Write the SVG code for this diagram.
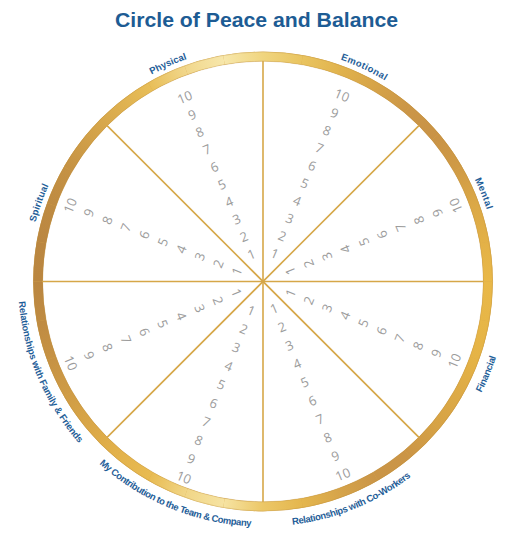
<svg xmlns="http://www.w3.org/2000/svg" width="526" height="545" viewBox="0 0 526 545">
<style>
.num{font-family:"Open Sans","Noto Sans",sans-serif;font-size:13px;fill:#9c9c9c;text-anchor:middle;dominant-baseline:central}
.lbl{font-family:"Liberation Sans",Arial,sans-serif;font-weight:bold;font-size:9.5px;fill:#1f5e98}
.spoke{stroke:#d6a748;stroke-width:1.6;fill:none}
.seg{fill:none;stroke-width:9.5}
</style>
<defs>
<path id="pPhys" d="M44.19,195.75 A235,235 0 0 1 348.75,62.69"/>
<path id="pEmo" d="M183.78,60.25 A235,235 0 0 1 484.25,202.28"/>
<path id="pMent" d="M355.94,65.68 A235,235 0 0 1 478.82,374.44"/>
<path id="pSpir" d="M51.08,383.04 A235,235 0 0 1 161.46,69.58"/>
<path id="pFin" d="M356.76,507.86 A245,245 0 0 0 489.36,187.74"/>
<path id="pCow" d="M167.28,507.02 A245,245 0 0 0 488.52,377.22"/>
<path id="pTeam" d="M36.82,375.65 A245,245 0 0 0 357.15,507.68"/>
<path id="pFam" d="M35.84,189.72 A245,245 0 0 0 171.22,508.66"/>
<linearGradient id="g0" gradientUnits="userSpaceOnUse" x1="488" y1="281.5" x2="484.58" y2="320.57"><stop offset="0" stop-color="#e9b848"/><stop offset="1" stop-color="#e7b647"/></linearGradient>
<linearGradient id="g1" gradientUnits="userSpaceOnUse" x1="484.58" y1="320.57" x2="474.43" y2="358.46"><stop offset="0" stop-color="#e7b647"/><stop offset="1" stop-color="#e5b346"/></linearGradient>
<linearGradient id="g2" gradientUnits="userSpaceOnUse" x1="474.43" y1="358.46" x2="457.86" y2="394"><stop offset="0" stop-color="#e5b346"/><stop offset="1" stop-color="#ddaa46"/></linearGradient>
<linearGradient id="g3" gradientUnits="userSpaceOnUse" x1="457.86" y1="394" x2="435.36" y2="426.13"><stop offset="0" stop-color="#ddaa46"/><stop offset="1" stop-color="#d6a245"/></linearGradient>
<linearGradient id="g4" gradientUnits="userSpaceOnUse" x1="435.36" y1="426.13" x2="407.63" y2="453.86"><stop offset="0" stop-color="#d6a245"/><stop offset="1" stop-color="#cb9546"/></linearGradient>
<linearGradient id="g5" gradientUnits="userSpaceOnUse" x1="407.63" y1="453.86" x2="375.5" y2="476.36"><stop offset="0" stop-color="#cb9546"/><stop offset="1" stop-color="#ca9547"/></linearGradient>
<linearGradient id="g6" gradientUnits="userSpaceOnUse" x1="375.5" y1="476.36" x2="339.96" y2="492.93"><stop offset="0" stop-color="#ca9547"/><stop offset="1" stop-color="#d6a44a"/></linearGradient>
<linearGradient id="g7" gradientUnits="userSpaceOnUse" x1="339.96" y1="492.93" x2="302.07" y2="503.08"><stop offset="0" stop-color="#d6a44a"/><stop offset="1" stop-color="#e4b64e"/></linearGradient>
<linearGradient id="g8" gradientUnits="userSpaceOnUse" x1="302.07" y1="503.08" x2="263" y2="506.5"><stop offset="0" stop-color="#e4b64e"/><stop offset="1" stop-color="#ecc767"/></linearGradient>
<linearGradient id="g9" gradientUnits="userSpaceOnUse" x1="263" y1="506.5" x2="223.93" y2="503.08"><stop offset="0" stop-color="#ecc767"/><stop offset="1" stop-color="#f6e3a2"/></linearGradient>
<linearGradient id="g10" gradientUnits="userSpaceOnUse" x1="223.93" y1="503.08" x2="186.04" y2="492.93"><stop offset="0" stop-color="#f6e3a2"/><stop offset="1" stop-color="#f1d687"/></linearGradient>
<linearGradient id="g11" gradientUnits="userSpaceOnUse" x1="186.04" y1="492.93" x2="150.5" y2="476.36"><stop offset="0" stop-color="#f1d687"/><stop offset="1" stop-color="#e8bb52"/></linearGradient>
<linearGradient id="g12" gradientUnits="userSpaceOnUse" x1="150.5" y1="476.36" x2="118.37" y2="453.86"><stop offset="0" stop-color="#e8bb52"/><stop offset="1" stop-color="#e3b24b"/></linearGradient>
<linearGradient id="g13" gradientUnits="userSpaceOnUse" x1="118.37" y1="453.86" x2="90.64" y2="426.13"><stop offset="0" stop-color="#e3b24b"/><stop offset="1" stop-color="#daa747"/></linearGradient>
<linearGradient id="g14" gradientUnits="userSpaceOnUse" x1="90.64" y1="426.13" x2="68.14" y2="394"><stop offset="0" stop-color="#daa747"/><stop offset="1" stop-color="#cf9c46"/></linearGradient>
<linearGradient id="g15" gradientUnits="userSpaceOnUse" x1="68.14" y1="394" x2="51.57" y2="358.46"><stop offset="0" stop-color="#cf9c46"/><stop offset="1" stop-color="#c69244"/></linearGradient>
<linearGradient id="g16" gradientUnits="userSpaceOnUse" x1="51.57" y1="358.46" x2="41.42" y2="320.57"><stop offset="0" stop-color="#c69244"/><stop offset="1" stop-color="#bf8b42"/></linearGradient>
<linearGradient id="g17" gradientUnits="userSpaceOnUse" x1="41.42" y1="320.57" x2="38" y2="281.5"><stop offset="0" stop-color="#bf8b42"/><stop offset="1" stop-color="#ba8640"/></linearGradient>
<linearGradient id="g18" gradientUnits="userSpaceOnUse" x1="38" y1="281.5" x2="41.42" y2="242.43"><stop offset="0" stop-color="#ba8640"/><stop offset="1" stop-color="#bb8741"/></linearGradient>
<linearGradient id="g19" gradientUnits="userSpaceOnUse" x1="41.42" y1="242.43" x2="51.57" y2="204.54"><stop offset="0" stop-color="#bb8741"/><stop offset="1" stop-color="#be8b42"/></linearGradient>
<linearGradient id="g20" gradientUnits="userSpaceOnUse" x1="51.57" y1="204.54" x2="68.14" y2="169"><stop offset="0" stop-color="#be8b42"/><stop offset="1" stop-color="#c59244"/></linearGradient>
<linearGradient id="g21" gradientUnits="userSpaceOnUse" x1="68.14" y1="169" x2="90.64" y2="136.87"><stop offset="0" stop-color="#c59244"/><stop offset="1" stop-color="#d2a149"/></linearGradient>
<linearGradient id="g22" gradientUnits="userSpaceOnUse" x1="90.64" y1="136.87" x2="118.37" y2="109.14"><stop offset="0" stop-color="#d2a149"/><stop offset="1" stop-color="#ddaf4f"/></linearGradient>
<linearGradient id="g23" gradientUnits="userSpaceOnUse" x1="118.37" y1="109.14" x2="150.5" y2="86.64"><stop offset="0" stop-color="#ddaf4f"/><stop offset="1" stop-color="#e8be58"/></linearGradient>
<linearGradient id="g24" gradientUnits="userSpaceOnUse" x1="150.5" y1="86.64" x2="186.04" y2="70.07"><stop offset="0" stop-color="#e8be58"/><stop offset="1" stop-color="#f1d78c"/></linearGradient>
<linearGradient id="g25" gradientUnits="userSpaceOnUse" x1="186.04" y1="70.07" x2="223.93" y2="59.92"><stop offset="0" stop-color="#f1d78c"/><stop offset="1" stop-color="#f7e7ab"/></linearGradient>
<linearGradient id="g26" gradientUnits="userSpaceOnUse" x1="223.93" y1="59.92" x2="263" y2="56.5"><stop offset="0" stop-color="#f7e7ab"/><stop offset="1" stop-color="#f0d57f"/></linearGradient>
<linearGradient id="g27" gradientUnits="userSpaceOnUse" x1="263" y1="56.5" x2="302.07" y2="59.92"><stop offset="0" stop-color="#f0d57f"/><stop offset="1" stop-color="#e9c460"/></linearGradient>
<linearGradient id="g28" gradientUnits="userSpaceOnUse" x1="302.07" y1="59.92" x2="339.96" y2="70.07"><stop offset="0" stop-color="#e9c460"/><stop offset="1" stop-color="#e1b34d"/></linearGradient>
<linearGradient id="g29" gradientUnits="userSpaceOnUse" x1="339.96" y1="70.07" x2="375.5" y2="86.64"><stop offset="0" stop-color="#e1b34d"/><stop offset="1" stop-color="#d6a348"/></linearGradient>
<linearGradient id="g30" gradientUnits="userSpaceOnUse" x1="375.5" y1="86.64" x2="407.63" y2="109.14"><stop offset="0" stop-color="#d6a348"/><stop offset="1" stop-color="#cb9647"/></linearGradient>
<linearGradient id="g31" gradientUnits="userSpaceOnUse" x1="407.63" y1="109.14" x2="435.36" y2="136.87"><stop offset="0" stop-color="#cb9647"/><stop offset="1" stop-color="#c99346"/></linearGradient>
<linearGradient id="g32" gradientUnits="userSpaceOnUse" x1="435.36" y1="136.87" x2="457.86" y2="169"><stop offset="0" stop-color="#c99346"/><stop offset="1" stop-color="#d09b45"/></linearGradient>
<linearGradient id="g33" gradientUnits="userSpaceOnUse" x1="457.86" y1="169" x2="474.43" y2="204.54"><stop offset="0" stop-color="#d09b45"/><stop offset="1" stop-color="#dba846"/></linearGradient>
<linearGradient id="g34" gradientUnits="userSpaceOnUse" x1="474.43" y1="204.54" x2="484.58" y2="242.43"><stop offset="0" stop-color="#dba846"/><stop offset="1" stop-color="#e3b147"/></linearGradient>
<linearGradient id="g35" gradientUnits="userSpaceOnUse" x1="484.58" y1="242.43" x2="488" y2="281.5"><stop offset="0" stop-color="#e3b147"/><stop offset="1" stop-color="#e9b848"/></linearGradient>
</defs>
<rect width="526" height="545" fill="#ffffff"/>
<text x="115" y="26.7" font-family="Liberation Sans, Arial, sans-serif" font-weight="bold" font-size="20.5" fill="#1d5c94" textLength="283" lengthAdjust="spacingAndGlyphs">Circle of Peace and Balance</text>

<g id="ring">
<circle cx="263" cy="281.5" r="225" fill="none" stroke="#d8a849" stroke-width="9.5"/>
<path class="seg" stroke="url(#g0)" d="M488,281.5 A225,225 0 0 1 484.58,320.57"/>
<path class="seg" stroke="url(#g1)" d="M484.58,320.57 A225,225 0 0 1 474.43,358.46"/>
<path class="seg" stroke="url(#g2)" d="M474.43,358.46 A225,225 0 0 1 457.86,394"/>
<path class="seg" stroke="url(#g3)" d="M457.86,394 A225,225 0 0 1 435.36,426.13"/>
<path class="seg" stroke="url(#g4)" d="M435.36,426.13 A225,225 0 0 1 407.63,453.86"/>
<path class="seg" stroke="url(#g5)" d="M407.63,453.86 A225,225 0 0 1 375.5,476.36"/>
<path class="seg" stroke="url(#g6)" d="M375.5,476.36 A225,225 0 0 1 339.96,492.93"/>
<path class="seg" stroke="url(#g7)" d="M339.96,492.93 A225,225 0 0 1 302.07,503.08"/>
<path class="seg" stroke="url(#g8)" d="M302.07,503.08 A225,225 0 0 1 263,506.5"/>
<path class="seg" stroke="url(#g9)" d="M263,506.5 A225,225 0 0 1 223.93,503.08"/>
<path class="seg" stroke="url(#g10)" d="M223.93,503.08 A225,225 0 0 1 186.04,492.93"/>
<path class="seg" stroke="url(#g11)" d="M186.04,492.93 A225,225 0 0 1 150.5,476.36"/>
<path class="seg" stroke="url(#g12)" d="M150.5,476.36 A225,225 0 0 1 118.37,453.86"/>
<path class="seg" stroke="url(#g13)" d="M118.37,453.86 A225,225 0 0 1 90.64,426.13"/>
<path class="seg" stroke="url(#g14)" d="M90.64,426.13 A225,225 0 0 1 68.14,394"/>
<path class="seg" stroke="url(#g15)" d="M68.14,394 A225,225 0 0 1 51.57,358.46"/>
<path class="seg" stroke="url(#g16)" d="M51.57,358.46 A225,225 0 0 1 41.42,320.57"/>
<path class="seg" stroke="url(#g17)" d="M41.42,320.57 A225,225 0 0 1 38,281.5"/>
<path class="seg" stroke="url(#g18)" d="M38,281.5 A225,225 0 0 1 41.42,242.43"/>
<path class="seg" stroke="url(#g19)" d="M41.42,242.43 A225,225 0 0 1 51.57,204.54"/>
<path class="seg" stroke="url(#g20)" d="M51.57,204.54 A225,225 0 0 1 68.14,169"/>
<path class="seg" stroke="url(#g21)" d="M68.14,169 A225,225 0 0 1 90.64,136.87"/>
<path class="seg" stroke="url(#g22)" d="M90.64,136.87 A225,225 0 0 1 118.37,109.14"/>
<path class="seg" stroke="url(#g23)" d="M118.37,109.14 A225,225 0 0 1 150.5,86.64"/>
<path class="seg" stroke="url(#g24)" d="M150.5,86.64 A225,225 0 0 1 186.04,70.07"/>
<path class="seg" stroke="url(#g25)" d="M186.04,70.07 A225,225 0 0 1 223.93,59.92"/>
<path class="seg" stroke="url(#g26)" d="M223.93,59.92 A225,225 0 0 1 263,56.5"/>
<path class="seg" stroke="url(#g27)" d="M263,56.5 A225,225 0 0 1 302.07,59.92"/>
<path class="seg" stroke="url(#g28)" d="M302.07,59.92 A225,225 0 0 1 339.96,70.07"/>
<path class="seg" stroke="url(#g29)" d="M339.96,70.07 A225,225 0 0 1 375.5,86.64"/>
<path class="seg" stroke="url(#g30)" d="M375.5,86.64 A225,225 0 0 1 407.63,109.14"/>
<path class="seg" stroke="url(#g31)" d="M407.63,109.14 A225,225 0 0 1 435.36,136.87"/>
<path class="seg" stroke="url(#g32)" d="M435.36,136.87 A225,225 0 0 1 457.86,169"/>
<path class="seg" stroke="url(#g33)" d="M457.86,169 A225,225 0 0 1 474.43,204.54"/>
<path class="seg" stroke="url(#g34)" d="M474.43,204.54 A225,225 0 0 1 484.58,242.43"/>
<path class="seg" stroke="url(#g35)" d="M484.58,242.43 A225,225 0 0 1 488,281.5"/>
<circle cx="263" cy="281.5" r="229.6" fill="none" stroke="#b8883c" stroke-width="0.6" opacity="0.5"/>
<circle cx="263" cy="281.5" r="220.4" fill="none" stroke="#b8883c" stroke-width="0.6" opacity="0.5"/>
</g>

<g id="connectors">
<line class="spoke" x1="42.5" y1="281.5" x2="483.5" y2="281.5"/>
<line class="spoke" x1="263" y1="61" x2="263" y2="502"/>
<line class="spoke" x1="107.08" y1="125.58" x2="418.92" y2="437.42"/>
<line class="spoke" x1="418.92" y1="125.58" x2="107.08" y2="437.42"/>
</g>

<g id="physical">
<text class="lbl"><textPath href="#pPhys" startOffset="50%" text-anchor="middle">Physical</textPath></text>
<text class="num" transform="translate(251.28 253.89) rotate(-22.5)">1</text>
<text class="num" transform="translate(243.88 236.45) rotate(-22.5)">2</text>
<text class="num" transform="translate(236.48 219.01) rotate(-22.5)">3</text>
<text class="num" transform="translate(229.08 201.57) rotate(-22.5)">4</text>
<text class="num" transform="translate(221.67 184.13) rotate(-22.5)">5</text>
<text class="num" transform="translate(214.27 166.69) rotate(-22.5)">6</text>
<text class="num" transform="translate(206.87 149.25) rotate(-22.5)">7</text>
<text class="num" transform="translate(199.47 131.82) rotate(-22.5)">8</text>
<text class="num" transform="translate(192.07 114.38) rotate(-22.5)">9</text>
<text class="num" transform="translate(184.67 96.94) rotate(-22.5)">10</text>
</g>

<g id="emotional">
<text class="lbl" letter-spacing="0.4"><textPath href="#pEmo" startOffset="50%" text-anchor="middle">Emotional</textPath></text>
<text class="num" transform="translate(274.92 253.42) rotate(22.5)">1</text>
<text class="num" transform="translate(282.38 235.83) rotate(22.5)">2</text>
<text class="num" transform="translate(289.85 218.24) rotate(22.5)">3</text>
<text class="num" transform="translate(297.32 200.65) rotate(22.5)">4</text>
<text class="num" transform="translate(304.78 183.06) rotate(22.5)">5</text>
<text class="num" transform="translate(312.25 165.46) rotate(22.5)">6</text>
<text class="num" transform="translate(319.72 147.87) rotate(22.5)">7</text>
<text class="num" transform="translate(327.18 130.28) rotate(22.5)">8</text>
<text class="num" transform="translate(334.65 112.69) rotate(22.5)">9</text>
<text class="num" transform="translate(342.12 95.10) rotate(22.5)">10</text>
</g>

<g id="mental">
<text class="lbl" letter-spacing="0.5"><textPath href="#pMent" startOffset="50%" text-anchor="middle">Mental</textPath></text>
<text class="num" transform="translate(289.98 270.87) rotate(-112.5)">1</text>
<text class="num" transform="translate(308.38 263.62) rotate(-112.5)">2</text>
<text class="num" transform="translate(326.79 256.37) rotate(-112.5)">3</text>
<text class="num" transform="translate(345.19 249.13) rotate(-112.5)">4</text>
<text class="num" transform="translate(363.59 241.88) rotate(-112.5)">5</text>
<text class="num" transform="translate(381.99 234.63) rotate(-112.5)">6</text>
<text class="num" transform="translate(400.39 227.38) rotate(-112.5)">7</text>
<text class="num" transform="translate(418.79 220.13) rotate(-112.5)">8</text>
<text class="num" transform="translate(437.19 212.88) rotate(-112.5)">9</text>
<text class="num" transform="translate(455.59 205.63) rotate(-112.5)">10</text>
</g>

<g id="financial">
<text class="lbl" letter-spacing="-0.3"><textPath href="#pFin" startOffset="50%" text-anchor="middle">Financial</textPath></text>
<text class="num" transform="translate(290.25 292.79) rotate(-67.5)">1</text>
<text class="num" transform="translate(308.48 300.34) rotate(-67.5)">2</text>
<text class="num" transform="translate(326.70 307.88) rotate(-67.5)">3</text>
<text class="num" transform="translate(344.92 315.43) rotate(-67.5)">4</text>
<text class="num" transform="translate(363.14 322.98) rotate(-67.5)">5</text>
<text class="num" transform="translate(381.36 330.53) rotate(-67.5)">6</text>
<text class="num" transform="translate(399.58 338.08) rotate(-67.5)">7</text>
<text class="num" transform="translate(417.81 345.62) rotate(-67.5)">8</text>
<text class="num" transform="translate(436.03 353.17) rotate(-67.5)">9</text>
<text class="num" transform="translate(454.25 360.72) rotate(-67.5)">10</text>
</g>

<g id="coworkers">
<text class="lbl" letter-spacing="-0.4"><textPath href="#pCow" startOffset="50%" text-anchor="middle">Relationships with Co-Workers</textPath></text>
<text class="num" transform="translate(274.10 308.29) rotate(-22.5)">1</text>
<text class="num" transform="translate(281.73 326.72) rotate(-22.5)">2</text>
<text class="num" transform="translate(289.36 345.15) rotate(-22.5)">3</text>
<text class="num" transform="translate(296.99 363.57) rotate(-22.5)">4</text>
<text class="num" transform="translate(304.63 382.00) rotate(-22.5)">5</text>
<text class="num" transform="translate(312.26 400.43) rotate(-22.5)">6</text>
<text class="num" transform="translate(319.89 418.86) rotate(-22.5)">7</text>
<text class="num" transform="translate(327.53 437.28) rotate(-22.5)">8</text>
<text class="num" transform="translate(335.16 455.71) rotate(-22.5)">9</text>
<text class="num" transform="translate(342.79 474.13) rotate(-22.5)">10</text>
</g>

<g id="team">
<text class="lbl" letter-spacing="-0.45"><textPath href="#pTeam" startOffset="50%" text-anchor="middle">My Contribution to the Team &amp; Company</textPath></text>
<text class="num" transform="translate(251.39 310.24) rotate(22.5)">1</text>
<text class="num" transform="translate(243.90 328.79) rotate(22.5)">2</text>
<text class="num" transform="translate(236.40 347.33) rotate(22.5)">3</text>
<text class="num" transform="translate(228.91 365.87) rotate(22.5)">4</text>
<text class="num" transform="translate(221.42 384.42) rotate(22.5)">5</text>
<text class="num" transform="translate(213.93 402.96) rotate(22.5)">6</text>
<text class="num" transform="translate(206.44 421.51) rotate(22.5)">7</text>
<text class="num" transform="translate(198.94 440.05) rotate(22.5)">8</text>
<text class="num" transform="translate(191.45 458.60) rotate(22.5)">9</text>
<text class="num" transform="translate(183.96 477.14) rotate(22.5)">10</text>
</g>

<g id="family">
<text class="lbl" letter-spacing="-0.2"><textPath href="#pFam" startOffset="50%" text-anchor="middle">Relationships with Family &amp; Friends</textPath></text>
<text class="num" transform="translate(236.77 292.63) rotate(67.5)">1</text>
<text class="num" transform="translate(218.36 300.45) rotate(67.5)">2</text>
<text class="num" transform="translate(199.95 308.26) rotate(67.5)">3</text>
<text class="num" transform="translate(181.54 316.08) rotate(67.5)">4</text>
<text class="num" transform="translate(163.13 323.89) rotate(67.5)">5</text>
<text class="num" transform="translate(144.72 331.70) rotate(67.5)">6</text>
<text class="num" transform="translate(126.31 339.52) rotate(67.5)">7</text>
<text class="num" transform="translate(107.90 347.33) rotate(67.5)">8</text>
<text class="num" transform="translate(89.49 355.15) rotate(67.5)">9</text>
<text class="num" transform="translate(71.08 362.96) rotate(67.5)">10</text>
</g>

<g id="spiritual">
<text class="lbl" letter-spacing="0.15"><textPath href="#pSpir" startOffset="50%" text-anchor="middle">Spiritual</textPath></text>
<text class="num" transform="translate(236.48 271.06) rotate(-67.5)">1</text>
<text class="num" transform="translate(217.98 263.77) rotate(-67.5)">2</text>
<text class="num" transform="translate(199.48 256.48) rotate(-67.5)">3</text>
<text class="num" transform="translate(180.97 249.19) rotate(-67.5)">4</text>
<text class="num" transform="translate(162.47 241.90) rotate(-67.5)">5</text>
<text class="num" transform="translate(143.96 234.61) rotate(-67.5)">6</text>
<text class="num" transform="translate(125.46 227.32) rotate(-67.5)">7</text>
<text class="num" transform="translate(106.95 220.03) rotate(-67.5)">8</text>
<text class="num" transform="translate(88.45 212.74) rotate(-67.5)">9</text>
<text class="num" transform="translate(69.94 205.45) rotate(-67.5)">10</text>
</g>
</svg>
